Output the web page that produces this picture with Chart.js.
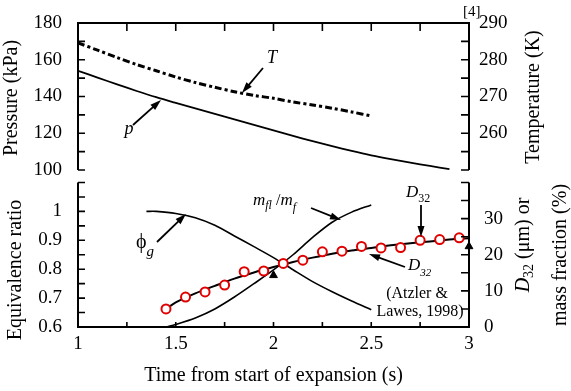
<!DOCTYPE html>
<html>
<head>
<meta charset="utf-8">
<title>Expansion chart</title>
<script src="https://cdn.jsdelivr.net/npm/chart.js@4.4.1/dist/chart.umd.min.js"></script>
<style>
  body { margin: 0; background: #fff; }
  #wrap { position: relative; width: 571px; height: 391px; }
  #wrap canvas { position: absolute; left: 0; }
</style>
</head>
<body>
<div id="wrap">
  <canvas id="topChart" width="571" height="176" style="top:0"></canvas>
  <canvas id="bottomChart" width="571" height="215" style="top:176px"></canvas>
</div>
<script>
// shared time axis
const timeTicks = [1, 1.25, 1.5, 1.75, 2, 2.25, 2.5, 2.75, 3];
const timeLabels = ['1', '', '1.5', '', '2', '', '2.5', '', '3'];

// top panel axes
const pressureTicks = [100, 110, 120, 130, 140, 150, 160, 170, 180];
const pressureLabels = ['100', '', '120', '', '140', '', '160', '', '180'];
const tempTicks = [250, 255, 260, 265, 270, 275, 280, 285, 290];
const tempLabels = ['', '', '260', '', '270', '', '280', '', '290'];

// bottom panel axes
const phiTicks = [0.6, 0.65, 0.7, 0.75, 0.8, 0.85, 0.9, 0.95, 1.0, 1.05, 1.1];
const phiLabels = ['0.6', '', '0.7', '', '0.8', '', '0.9', '', '1', '', ''];
const d32Ticks = [0, 5, 10, 15, 20, 25, 30, 35, 40];
const d32Labels = ['0', '', '10', '', '20', '', '30', '', ''];

// pressure p (kPa)
const pTime = [1.0, 1.1, 1.2, 1.3, 1.4, 1.5, 1.6, 1.7, 1.8, 1.9, 2.0, 2.1, 2.2, 2.3, 2.4, 2.5, 2.6, 2.7, 2.8, 2.9];
const pressure = [154, 150.3, 146.6, 143, 139.6, 136.5, 133.5, 130.6, 127.6, 124.6, 121.6, 118.6, 115.7, 113, 110.4, 108, 105.9, 104, 102.2, 100.5];

// temperature T (K)
const tTime = [1.0, 1.1, 1.2, 1.3, 1.4, 1.5, 1.6, 1.7, 1.8, 1.9, 2.0, 2.1, 2.2, 2.3, 2.4, 2.5];
const temperature = [284.6, 282.6, 280.6, 278.7, 277.0, 275.3, 273.8, 272.5, 271.3, 270.3, 269.5, 268.5, 267.7, 266.8, 265.8, 264.7];

// gas equivalence ratio
const phiTime = [1.35, 1.4, 1.5, 1.6, 1.7, 1.8, 1.9, 2.0, 2.1, 2.2, 2.3, 2.4, 2.5];
const phiG = [1.0, 1.0, 0.993, 0.978, 0.952, 0.915, 0.878, 0.84, 0.798, 0.757, 0.722, 0.69, 0.66];

// liquid fuel mass fraction (%)
const mflTime = [1.45, 1.5, 1.6, 1.7, 1.8, 1.9, 2.0, 2.1, 2.2, 2.3, 2.4, 2.5];
const mflRatio = [0, 0.7, 2.5, 5, 8.3, 12, 15.8, 20, 24.8, 29, 31.8, 33.8];

// D32 fitted curve (um)
const d32FitTime = [1.45, 1.5, 1.6, 1.7, 1.8, 1.9, 2.0, 2.1, 2.2, 2.3, 2.4, 2.5, 2.6, 2.7, 2.8, 2.9, 3.0];
const d32Fit = [5.0, 6.8, 9.3, 11.4, 13.4, 15.1, 16.6, 18.0, 19.2, 20.3, 21.2, 21.9, 22.6, 23.2, 23.7, 24.2, 24.6];

// D32 measurements (um)
const d32Time = [1.45, 1.55, 1.65, 1.75, 1.85, 1.95, 2.05, 2.15, 2.25, 2.35, 2.45, 2.55, 2.65, 2.75, 2.85, 2.95];
const d32Data = [5.0, 8.3, 9.7, 11.6, 15.3, 15.5, 17.6, 18.5, 20.8, 21.0, 22.3, 21.9, 22.0, 24.0, 24.2, 24.7];

// Atzler & Lawes (1998) points
const atzlerTime = [2.0, 3.0];
const atzlerD32 = [14.3, 22.3];

const serif = "'Liberation Serif', 'Times New Roman', serif";

function pts(xs, ys) {
    return xs.map((x, i) => ({ x: x, y: ys[i] }));
}

// axis with fixed ticks and a forced size so both panels line up
function axis(ticks, labels, position, size, pad) {
    return {
        type: 'linear',
        position: position,
        min: ticks[0],
        max: ticks[ticks.length - 1],
        afterBuildTicks: s => { s.ticks = ticks.map(v => ({ value: v })); },
        afterFit: s => {
            if (s.isHorizontal()) s.height = size; else s.width = size;
            s.paddingTop = 0; s.paddingBottom = 0;
            s.paddingLeft = 0; s.paddingRight = 0;
        },
        grid: { display: false, drawTicks: false },
        border: { display: false },
        ticks: {
            autoSkip: false,
            maxRotation: 0,
            padding: pad,
            color: '#000',
            font: { family: serif, size: 19 },
            callback: (v, i) => labels[i]
        }
    };
}

// frame lines + inward tick marks
function makeFrame(sides, marks) {
    return {
        id: 'frame',
        afterDraw(chart) {
            const ctx = chart.ctx;
            const a = chart.chartArea;
            ctx.save();
            ctx.strokeStyle = '#000';
            ctx.lineWidth = 2;
            ctx.beginPath();
            sides.forEach(side => {
                if (side === 'top') { ctx.moveTo(a.left - 1, a.top); ctx.lineTo(a.right + 1, a.top); }
                if (side === 'bottom') { ctx.moveTo(a.left - 1, a.bottom); ctx.lineTo(a.right + 1, a.bottom); }
                if (side === 'left') { ctx.moveTo(a.left, a.top); ctx.lineTo(a.left, a.bottom); }
                if (side === 'right') { ctx.moveTo(a.right, a.top); ctx.lineTo(a.right, a.bottom); }
            });
            ctx.stroke();
            ctx.lineWidth = 1.6;
            ctx.beginPath();
            marks.forEach(m => {
                const scale = chart.scales[m.axis];
                m.values.forEach(v => {
                    const p = scale.getPixelForValue(v);
                    if (m.edge === 'top') { ctx.moveTo(p, a.top); ctx.lineTo(p, a.top + m.len); }
                    if (m.edge === 'bottom') { ctx.moveTo(p, a.bottom); ctx.lineTo(p, a.bottom - m.len); }
                    if (m.edge === 'left') { ctx.moveTo(a.left, p); ctx.lineTo(a.left + m.len, p); }
                    if (m.edge === 'right') { ctx.moveTo(a.right, p); ctx.lineTo(a.right - m.len, p); }
                });
            });
            ctx.stroke();
            ctx.restore();
        }
    };
}

function runsWidth(ctx, parts) {
    let w = 0;
    parts.forEach(p => {
        ctx.font = (p.it ? 'italic ' : '') + p.s + 'px ' + serif;
        w += ctx.measureText(p.t).width;
    });
    return w;
}

function runs(ctx, x, y, parts) {
    ctx.textAlign = 'left';
    parts.forEach(p => {
        ctx.font = (p.it ? 'italic ' : '') + p.s + 'px ' + serif;
        ctx.fillText(p.t, x, y + (p.dy || 0));
        x += ctx.measureText(p.t).width;
    });
}

function centered(ctx, parts, cx, y) {
    runs(ctx, cx - runsWidth(ctx, parts) / 2, y, parts);
}

function vtext(ctx, parts, cx, cy) {
    ctx.save();
    ctx.translate(cx, cy);
    ctx.rotate(-Math.PI / 2);
    ctx.textBaseline = 'middle';
    runs(ctx, -runsWidth(ctx, parts) / 2, 0, parts);
    ctx.restore();
}

function arrow(ctx, x1, y1, x2, y2) {
    const ang = Math.atan2(y2 - y1, x2 - x1);
    const len = 11, half = 3.5;
    const c = Math.cos(ang), s = Math.sin(ang);
    ctx.lineWidth = 1.8;
    ctx.beginPath();
    ctx.moveTo(x1, y1);
    ctx.lineTo(x2 - len * c * 0.7, y2 - len * s * 0.7);
    ctx.stroke();
    ctx.beginPath();
    ctx.moveTo(x2, y2);
    ctx.lineTo(x2 - len * c + half * s, y2 - len * s - half * c);
    ctx.lineTo(x2 - len * c - half * s, y2 - len * s + half * c);
    ctx.closePath();
    ctx.fill();
}

const topNotes = {
    id: 'topNotes',
    afterDraw(chart) {
        const ctx = chart.ctx;
        ctx.save();
        ctx.fillStyle = '#000';
        ctx.strokeStyle = '#000';
        vtext(ctx, [{ t: 'Pressure (kPa)', s: 20 }], 12, 98);
        vtext(ctx, [{ t: 'Temperature (K)', s: 20 }], 534, 97);
        ctx.textBaseline = 'alphabetic';
        centered(ctx, [{ t: 'T', s: 18, it: true }], 272, 63);
        centered(ctx, [{ t: 'p', s: 18, it: true }], 129, 134);
        runs(ctx, 463, 16, [{ t: '[4]', s: 15 }]);
        arrow(ctx, 263, 68, 242, 93);
        arrow(ctx, 133, 125, 161, 100);
        ctx.restore();
    }
};

const bottomNotes = {
    id: 'bottomNotes',
    afterDraw(chart) {
        const ctx = chart.ctx;
        ctx.save();
        ctx.translate(0, -176);   // use page coordinates
        ctx.fillStyle = '#000';
        ctx.strokeStyle = '#000';
        vtext(ctx, [{ t: 'Equivalence ratio', s: 20 }], 16, 270);
        vtext(ctx, [{ t: 'D', s: 20, it: true }, { t: '32', s: 14, dy: 5 }, { t: ' (\u03bcm) or', s: 20 }], 524, 245);
        vtext(ctx, [{ t: 'mass fraction (%)', s: 20 }], 561, 255);
        ctx.textBaseline = 'alphabetic';
        runs(ctx, 136, 248, [{ t: '\u03d5', s: 20 }, { t: 'g', s: 15, it: true, dy: 8 }]);
        runs(ctx, 253, 205, [
            { t: 'm', s: 17, it: true }, { t: 'fl', s: 12, it: true, dy: 4 },
            { t: ' /', s: 16 }, { t: 'm', s: 17, it: true }, { t: 'f', s: 12, it: true, dy: 6 }
        ]);
        runs(ctx, 406, 197, [{ t: 'D', s: 17, it: true }, { t: '32', s: 12, dy: 5 }]);
        runs(ctx, 408, 270, [{ t: 'D', s: 17, it: true }, { t: '32', s: 11, it: true, dy: 6 }]);
        centered(ctx, [{ t: '(Atzler &', s: 16 }], 417, 298);
        centered(ctx, [{ t: 'Lawes, 1998)', s: 16 }], 420, 316);
        arrow(ctx, 157, 242, 186, 214);
        arrow(ctx, 311, 208, 341, 220);
        arrow(ctx, 421, 205, 421, 237);
        arrow(ctx, 405, 267, 369, 254);
        ctx.restore();
    }
};

const lineStyle = { borderColor: '#000', pointRadius: 0, tension: 0.3, fill: false };

new Chart(document.getElementById('topChart'), {
    type: 'line',
    data: {
        datasets: [
            Object.assign({ data: pts(pTime, pressure), yAxisID: 'yP', borderWidth: 1.8 }, lineStyle),
            Object.assign({ data: pts(tTime, temperature), yAxisID: 'yT', borderWidth: 3, borderDash: [7, 3, 3, 3] }, lineStyle)
        ]
    },
    options: {
        responsive: false,
        animation: false,
        events: [],
        layout: { padding: { top: 23, bottom: 6, left: 0, right: 0 } },
        plugins: { legend: { display: false }, tooltip: { enabled: false } },
        scales: {
            x: { type: 'linear', min: 1, max: 3, display: false },
            yP: axis(pressureTicks, pressureLabels, 'left', 78, 16),
            yT: axis(tempTicks, tempLabels, 'right', 102, 10)
        }
    },
    plugins: [
        makeFrame(['top', 'left', 'right'], [
            { axis: 'x', edge: 'top', values: timeTicks, len: 8 },
            { axis: 'yP', edge: 'left', values: pressureTicks, len: 7 },
            { axis: 'yT', edge: 'right', values: tempTicks, len: 8 }
        ]),
        topNotes
    ]
});

const timeAxis = axis(timeTicks, timeLabels, 'bottom', 64, 6);
timeAxis.title = {
    display: true,
    text: 'Time from start of expansion (s)',
    color: '#000',
    font: { family: serif, size: 20 },
    padding: { top: 0, bottom: 3 }
};

new Chart(document.getElementById('bottomChart'), {
    type: 'line',
    data: {
        datasets: [
            {
                data: pts(d32Time, d32Data), yAxisID: 'yD', showLine: false,
                pointStyle: 'circle', pointRadius: 4.5, pointBorderWidth: 2,
                pointBorderColor: '#e00000', pointBackgroundColor: '#fff'
            },
            {
                data: pts(atzlerTime, atzlerD32), yAxisID: 'yD', showLine: false, clip: false,
                pointStyle: 'triangle', pointRadius: 4.5, pointBorderWidth: 1,
                pointBorderColor: '#000', pointBackgroundColor: '#000'
            },
            Object.assign({ data: pts(d32FitTime, d32Fit), yAxisID: 'yD', borderWidth: 2 }, lineStyle),
            Object.assign({ data: pts(phiTime, phiG), yAxisID: 'yE', borderWidth: 1.6 }, lineStyle),
            Object.assign({ data: pts(mflTime, mflRatio), yAxisID: 'yD', borderWidth: 1.6 }, lineStyle)
        ]
    },
    options: {
        responsive: false,
        animation: false,
        events: [],
        layout: { padding: { top: 6, bottom: 0, left: 0, right: 0 } },
        plugins: { legend: { display: false }, tooltip: { enabled: false } },
        scales: {
            x: timeAxis,
            yE: axis(phiTicks, phiLabels, 'left', 78, 16),
            yD: axis(d32Ticks, d32Labels, 'right', 102, 15)
        }
    },
    plugins: [
        makeFrame(['left', 'right', 'bottom'], [
            { axis: 'x', edge: 'bottom', values: timeTicks, len: 5 },
            { axis: 'yE', edge: 'left', values: phiTicks, len: 7 },
            { axis: 'yD', edge: 'right', values: d32Ticks, len: 8 }
        ]),
        bottomNotes
    ]
});
</script>
</body>
</html>
